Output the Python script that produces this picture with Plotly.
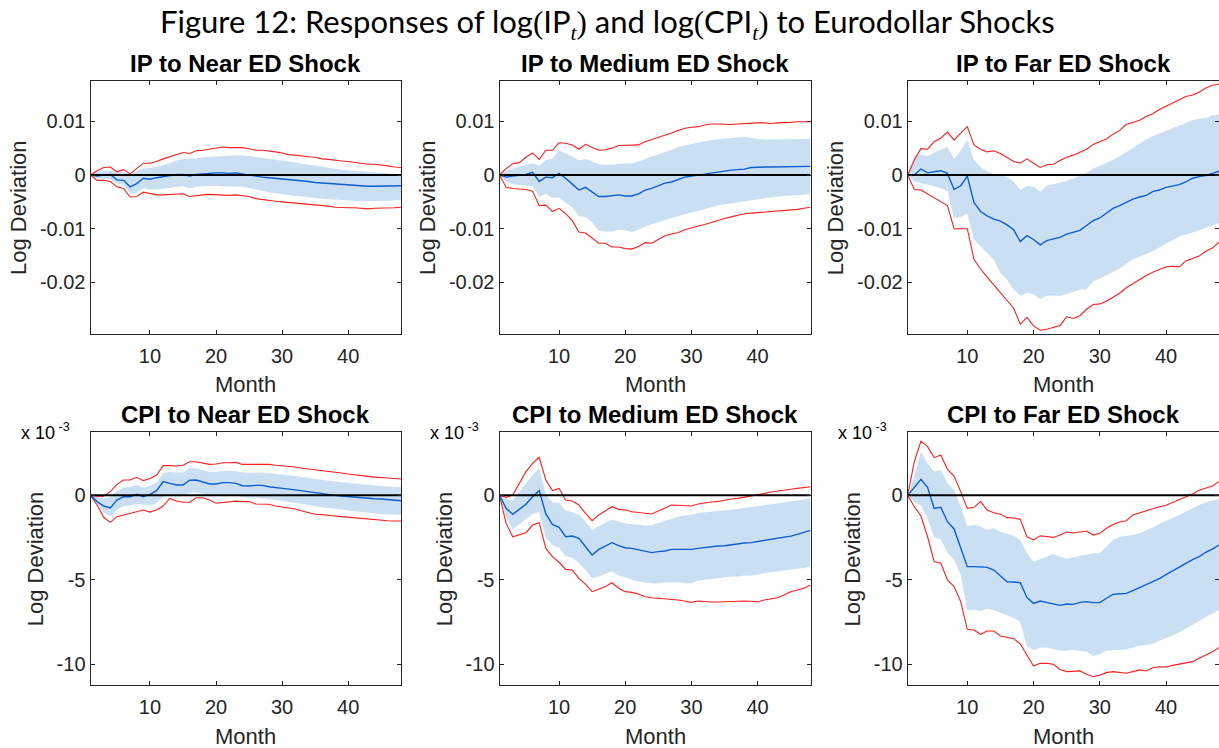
import plotly.graph_objects as go

W, H = 1219, 748
months = list(range(1, 49))

# ---- IP responses (log deviation) ----
ip_near_med = [0, -0.0002, 0, 0.0001, -0.0009, -0.001, -0.0022, -0.0016, -0.0006, -0.0008,
               -0.0005, -0.0003, -0.0001, 0.0001, 0.0001, -0.0002, 0.0001, 0.0002, 0.0004, 0.0004,
               0.0004, 0.0003, 0.0004, 0.0002, -0.0001, -0.0003, -0.0004, -0.0005, -0.0006, -0.0007,
               -0.0009, -0.001, -0.0011, -0.0012, -0.0014, -0.0015, -0.0016, -0.0017, -0.0018, -0.0019,
               -0.0019, -0.002, -0.0021, -0.0021, -0.0021, -0.0021, -0.002, -0.002]
ip_near_hi90 = [0, 0.0008, 0.0014, 0.0015, 0.0006, 0.001, 0.0002, 0.0012, 0.0022, 0.0022,
                0.0025, 0.003, 0.0034, 0.0038, 0.0042, 0.004, 0.0045, 0.0046, 0.0048, 0.005,
                0.0052, 0.0051, 0.0051, 0.0051, 0.0049, 0.0046, 0.0046, 0.0045, 0.0043, 0.0041,
                0.0038, 0.0037, 0.0035, 0.0034, 0.0033, 0.003, 0.0029, 0.0027, 0.0026, 0.0025,
                0.0023, 0.0022, 0.002, 0.002, 0.0019, 0.0017, 0.0015, 0.0014]
ip_near_lo90 = [0, -0.001, -0.001, -0.0012, -0.0022, -0.0025, -0.0041, -0.004, -0.0032, -0.0035,
                -0.0037, -0.0037, -0.0036, -0.0035, -0.0035, -0.004, -0.0038, -0.0037, -0.0036, -0.0037,
                -0.0038, -0.0038, -0.0037, -0.0038, -0.004, -0.0044, -0.0046, -0.0047, -0.0049, -0.005,
                -0.0051, -0.0053, -0.0054, -0.0055, -0.0055, -0.0057, -0.0058, -0.006, -0.0061, -0.0061,
                -0.0061, -0.0062, -0.0063, -0.0062, -0.0062, -0.0061, -0.0061, -0.006]
ip_near_hi68 = [0, 0.0006, 0.0008, 0.0008, 0.0005, 0.0006, 0.0001, 0.0007, 0.0012, 0.0013,
                0.0015, 0.0018, 0.0022, 0.0027, 0.003, 0.003, 0.0031, 0.0033, 0.0034, 0.0035,
                0.0036, 0.0037, 0.0037, 0.0037, 0.0035, 0.0033, 0.0032, 0.003, 0.0028, 0.0027,
                0.0025, 0.0023, 0.0021, 0.002, 0.0018, 0.0016, 0.0014, 0.0012, 0.001, 0.0009,
                0.0008, 0.0006, 0.0005, 0.0004, 0.0003, 0.0003, 0.0002, 0.0002]
ip_near_lo68 = [0, -0.0006, -0.0007, -0.0008, -0.0016, -0.0018, -0.0034, -0.0033, -0.0024, -0.0027,
                -0.0027, -0.0026, -0.0024, -0.0022, -0.0021, -0.0025, -0.0022, -0.0021, -0.002, -0.002,
                -0.0021, -0.0021, -0.0021, -0.0022, -0.0024, -0.0027, -0.003, -0.0032, -0.0034, -0.0036,
                -0.0037, -0.0039, -0.004, -0.0042, -0.0043, -0.0044, -0.0045, -0.0046, -0.0047, -0.0048,
                -0.0048, -0.0049, -0.0049, -0.0049, -0.0049, -0.0048, -0.0047, -0.0046]

ip_med_med = [0, -0.0004, -0.0002, -0.0001, 0.0001, 0.0005, -0.0012, -0.0004, -0.0005, 0.0003,
              -0.0006, -0.0017, -0.0028, -0.0023, -0.0031, -0.004, -0.004, -0.0039, -0.0037, -0.0039,
              -0.0039, -0.0035, -0.0028, -0.0025, -0.002, -0.0015, -0.0013, -0.0009, -0.0004, -0.0002,
              0, 0.0002, 0.0004, 0.0005, 0.0007, 0.0009, 0.001, 0.0011, 0.0014, 0.0015,
              0.0015, 0.0015, 0.0015, 0.0015, 0.0015, 0.0015, 0.0016, 0.0016]
ip_med_hi90 = [0, 0.0012, 0.0021, 0.0023, 0.0033, 0.0041, 0.0029, 0.0046, 0.0046, 0.006,
               0.0059, 0.0056, 0.0048, 0.0057, 0.0051, 0.0046, 0.0047, 0.005, 0.0055, 0.0055,
               0.0055, 0.0056, 0.0062, 0.0066, 0.0069, 0.0073, 0.0078, 0.0083, 0.0087, 0.0089,
               0.009, 0.0093, 0.0095, 0.0095, 0.0094, 0.0094, 0.0095, 0.0096, 0.0096, 0.0097,
               0.0097, 0.0096, 0.0097, 0.0097, 0.0098, 0.0099, 0.0099, 0.0099]
ip_med_lo90 = [0, -0.0023, -0.0025, -0.0026, -0.0027, -0.003, -0.0057, -0.0056, -0.0068, -0.0062,
               -0.0072, -0.0085, -0.0106, -0.0108, -0.0117, -0.0127, -0.0127, -0.0134, -0.0134, -0.0137,
               -0.0138, -0.0133, -0.0126, -0.0127, -0.012, -0.0113, -0.011, -0.0107, -0.0102, -0.0098,
               -0.0095, -0.0092, -0.0088, -0.0084, -0.0081, -0.0078, -0.0075, -0.0072, -0.0071, -0.007,
               -0.007, -0.0069, -0.0068, -0.0067, -0.0066, -0.0064, -0.0062, -0.006]
ip_med_hi68 = [0, 0.0008, 0.0012, 0.0015, 0.0018, 0.0022, 0.0017, 0.0028, 0.0031, 0.0045,
               0.004, 0.0035, 0.0027, 0.003, 0.0025, 0.002, 0.0019, 0.0019, 0.0021, 0.0021,
               0.0022, 0.0025, 0.003, 0.0034, 0.0038, 0.0042, 0.0047, 0.0052, 0.0055, 0.0058,
               0.006, 0.0063, 0.0065, 0.0066, 0.0068, 0.0069, 0.007, 0.0071, 0.0069, 0.0067,
               0.0066, 0.0066, 0.0066, 0.0066, 0.0066, 0.0066, 0.0067, 0.0068]
ip_med_lo68 = [0, -0.0013, -0.0017, -0.0018, -0.0019, -0.0021, -0.0041, -0.0035, -0.0043, -0.0042,
               -0.0052, -0.006, -0.0077, -0.0078, -0.0088, -0.0104, -0.0105, -0.0105, -0.0102, -0.0103,
               -0.0106, -0.0102, -0.0096, -0.0092, -0.0088, -0.0083, -0.008, -0.0077, -0.0073, -0.007,
               -0.0067, -0.0063, -0.006, -0.0057, -0.0055, -0.0052, -0.005, -0.0049, -0.0047, -0.0045,
               -0.0043, -0.0042, -0.004, -0.0039, -0.0038, -0.0037, -0.0037, -0.0036]

ip_far_med = [0, 0, 0.0011, 0.0004, 0.0006, 0.0008, 0.0003, -0.0027, -0.002, -0.0002,
              -0.0051, -0.0068, -0.0076, -0.0082, -0.0086, -0.0093, -0.0102, -0.0124, -0.0113, -0.012,
              -0.013, -0.0122, -0.0119, -0.0116, -0.011, -0.0106, -0.0103, -0.0094, -0.0085, -0.008,
              -0.0071, -0.0062, -0.0057, -0.0051, -0.0045, -0.0041, -0.0038, -0.0031, -0.0028, -0.0023,
              -0.002, -0.0018, -0.0013, -0.0006, -0.0003, -0.0001, 0.0003, 0.0007]
ip_far_hi90 = [0, 0.0028, 0.0049, 0.0048, 0.0062, 0.0069, 0.008, 0.0065, 0.0078, 0.009,
               0.0056, 0.0048, 0.0043, 0.0045, 0.004, 0.0033, 0.0025, 0.0022, 0.003, 0.0022,
               0.0014, 0.0019, 0.002, 0.0027, 0.0033, 0.0037, 0.0043, 0.0048, 0.0057, 0.0062,
               0.0067, 0.0076, 0.0083, 0.0094, 0.0098, 0.0102, 0.0109, 0.0114, 0.0122, 0.0128,
               0.0134, 0.014, 0.0146, 0.0149, 0.0154, 0.0162, 0.0167, 0.0169]
ip_far_lo90 = [0, -0.0027, -0.0028, -0.0035, -0.0042, -0.0049, -0.0057, -0.01, -0.01, -0.01,
               -0.0157, -0.0175, -0.019, -0.0204, -0.0218, -0.0233, -0.0248, -0.0278, -0.0265, -0.0281,
               -0.0289, -0.0287, -0.0284, -0.028, -0.0264, -0.0267, -0.0262, -0.025, -0.0241, -0.024,
               -0.0235, -0.0227, -0.022, -0.021, -0.0202, -0.0194, -0.0187, -0.0181, -0.0176, -0.0171,
               -0.017, -0.0171, -0.016, -0.0156, -0.0151, -0.0142, -0.0136, -0.0125]
ip_far_hi68 = [0, 0.0037, 0.0038, 0.0035, 0.0042, 0.0047, 0.0052, 0.003, 0.0045, 0.0065,
               0.0028, 0.0015, 0.0007, 0.0002, 0, -0.0004, -0.0012, -0.0028, -0.002, -0.0022,
               -0.0031, -0.002, -0.0017, -0.0015, -0.0011, -0.0006, -0.0002, 0.0004, 0.0012, 0.0017,
               0.0022, 0.0028, 0.0035, 0.0043, 0.0051, 0.0059, 0.0066, 0.0072, 0.0077, 0.0081,
               0.0086, 0.0091, 0.0096, 0.0102, 0.0105, 0.0106, 0.0111, 0.0113]
ip_far_lo68 = [0, -0.0012, -0.0015, -0.0018, -0.002, -0.0024, -0.003, -0.008, -0.0078, -0.0071,
               -0.012, -0.0133, -0.0145, -0.0158, -0.0182, -0.0195, -0.0213, -0.0225, -0.0219, -0.0222,
               -0.0231, -0.0225, -0.0225, -0.0225, -0.0222, -0.0218, -0.0213, -0.0213, -0.0198, -0.0193,
               -0.0187, -0.0181, -0.0174, -0.0165, -0.0157, -0.0152, -0.0147, -0.0142, -0.0135, -0.0128,
               -0.012, -0.0114, -0.0111, -0.0107, -0.0103, -0.0099, -0.0094, -0.009]

# ---- CPI responses (log deviation, in units of 1e-3) ----
cpi_near_med = [0, -0.37, -0.63, -0.75, -0.28, -0.08, -0.08, 0.06, -0.08, 0.06,
                0.28, 0.81, 0.71, 0.61, 0.61, 0.89, 0.91, 0.81, 0.67, 0.67,
                0.75, 0.75, 0.71, 0.57, 0.55, 0.59, 0.59, 0.51, 0.45, 0.41,
                0.37, 0.32, 0.26, 0.2, 0.14, 0.08, 0.04, 0, -0.04, -0.08,
                -0.1, -0.14, -0.16, -0.2, -0.22, -0.26, -0.28, -0.32]
cpi_near_hi90 = [0, -0.05, -0.05, 0.22, 0.65, 0.91, 0.91, 1.07, 0.87, 1.0,
                 1.2, 1.76, 1.76, 1.74, 1.78, 1.99, 1.99, 1.93, 1.83, 1.85,
                 1.93, 1.93, 1.95, 1.83, 1.83, 1.85, 1.87, 1.83, 1.78, 1.76,
                 1.74, 1.68, 1.6, 1.56, 1.52, 1.48, 1.42, 1.36, 1.32, 1.26,
                 1.2, 1.16, 1.12, 1.08, 1.07, 1.03, 1.0, 0.97]
cpi_near_lo90 = [0, -0.57, -1.3, -1.6, -1.26, -1.16, -1.07, -0.97, -0.87, -0.99,
                 -0.87, -0.63, -0.18, -0.34, -0.41, -0.41, -0.14, -0.14, -0.28, -0.47,
                 -0.43, -0.37, -0.34, -0.37, -0.37, -0.51, -0.53, -0.53, -0.63, -0.69,
                 -0.73, -0.81, -0.93, -1.03, -1.12, -1.14, -1.2, -1.22, -1.26, -1.3,
                 -1.34, -1.36, -1.4, -1.44, -1.48, -1.5, -1.52, -1.52]
cpi_near_hi68 = [0, -0.1, -0.15, -0.1, 0.25, 0.45, 0.5, 0.62, 0.45, 0.55,
                 0.75, 1.3, 1.4, 1.35, 1.35, 1.6, 1.6, 1.5, 1.38, 1.4,
                 1.43, 1.45, 1.43, 1.35, 1.34, 1.35, 1.35, 1.3, 1.27, 1.24,
                 1.2, 1.15, 1.08, 1.02, 0.97, 0.92, 0.87, 0.82, 0.78, 0.74,
                 0.7, 0.65, 0.6, 0.57, 0.55, 0.53, 0.5, 0.48]
cpi_near_lo68 = [0, -0.5, -1.0, -1.25, -0.85, -0.65, -0.6, -0.5, -0.55, -0.6,
                 -0.45, -0.1, 0.0, -0.05, -0.05, 0.15, 0.15, 0.1, -0.05, -0.05,
                 0.0, 0.02, 0.0, -0.1, -0.15, -0.15, -0.17, -0.22, -0.27, -0.32,
                 -0.37, -0.42, -0.5, -0.57, -0.65, -0.7, -0.75, -0.8, -0.85, -0.9,
                 -0.95, -1.0, -1.03, -1.07, -1.1, -1.13, -1.15, -1.17]

cpi_med_med = [0, -0.77, -1.12, -0.83, -0.53, -0.08, 0.28, -1.1, -1.72, -1.89,
               -2.45, -2.41, -2.54, -3.04, -3.53, -3.2, -3.0, -2.8, -2.98, -3.1,
               -3.14, -3.23, -3.33, -3.39, -3.33, -3.29, -3.2, -3.21, -3.23, -3.2,
               -3.14, -3.08, -3.04, -3.0, -2.98, -2.92, -2.86, -2.82, -2.8, -2.74,
               -2.66, -2.6, -2.52, -2.47, -2.41, -2.31, -2.19, -2.07]
cpi_med_hi90 = [0, -0.12, 0.02, 0.71, 1.4, 1.89, 2.25, 0.91, 0.28, 0.41,
                -0.28, -0.34, -0.57, -1.07, -1.5, -1.16, -0.91, -0.67, -0.83, -0.87,
                -0.97, -1.01, -1.03, -1.1, -0.93, -0.77, -0.57, -0.59, -0.59, -0.63,
                -0.51, -0.43, -0.39, -0.36, -0.28, -0.22, -0.18, -0.12, -0.02, 0.04,
                0.1, 0.2, 0.24, 0.3, 0.36, 0.41, 0.47, 0.51]
cpi_med_lo90 = [0, -1.66, -2.45, -2.35, -2.21, -1.76, -1.62, -3.14, -3.63, -3.96,
                -4.38, -4.42, -4.91, -5.25, -5.7, -5.56, -5.4, -5.17, -5.5, -5.7,
                -5.74, -5.84, -6.0, -6.06, -6.09, -6.11, -6.13, -6.19, -6.25, -6.33,
                -6.25, -6.29, -6.31, -6.31, -6.29, -6.27, -6.27, -6.25, -6.27, -6.31,
                -6.19, -6.13, -6.06, -5.9, -5.7, -5.6, -5.5, -5.3]
cpi_med_hi68 = [0, -0.2, -0.3, 0.2, 0.7, 1.2, 1.6, 0.02, -0.4, -0.45,
                -0.9, -1.0, -1.15, -1.55, -2.05, -1.8, -1.6, -1.45, -1.55, -1.65,
                -1.7, -1.75, -1.78, -1.75, -1.65, -1.5, -1.4, -1.25, -1.2, -1.15,
                -1.05, -1.0, -0.97, -0.93, -0.9, -0.85, -0.8, -0.75, -0.7, -0.65,
                -0.6, -0.55, -0.5, -0.42, -0.35, -0.28, -0.22, -0.18]
cpi_med_lo68 = [0, -1.3, -2.0, -1.7, -1.4, -1.1, -1.0, -2.5, -2.95, -3.1,
                -3.6, -3.7, -4.0, -4.4, -4.9, -4.8, -4.65, -4.5, -4.75, -4.85,
                -5.0, -5.1, -5.15, -5.2, -5.2, -5.15, -5.15, -5.15, -5.2, -5.2,
                -5.05, -5.0, -4.95, -4.9, -4.85, -4.8, -4.8, -4.75, -4.75, -4.7,
                -4.6, -4.55, -4.5, -4.45, -4.4, -4.35, -4.3, -4.2]

cpi_far_med = [0, 0.47, 0.95, 0.47, -0.77, -0.71, -1.56, -1.99, -3.14, -4.22,
               -4.22, -4.24, -4.26, -4.42, -4.75, -5.11, -5.13, -5.17, -6.04, -6.39,
               -6.25, -6.35, -6.43, -6.51, -6.43, -6.45, -6.33, -6.29, -6.35, -6.35,
               -6.09, -5.86, -5.82, -5.8, -5.64, -5.46, -5.29, -5.07, -4.93, -4.69,
               -4.46, -4.26, -4.02, -3.81, -3.63, -3.37, -3.18, -2.94]
cpi_far_hi90 = [0, 1.99, 3.21, 2.88, 2.23, 2.39, 1.54, 1.14, 0.22, -0.77,
                -0.71, -0.37, -0.87, -1.03, -1.12, -1.32, -1.34, -1.42, -2.45, -2.64,
                -2.39, -2.45, -2.49, -2.35, -2.17, -2.23, -2.19, -2.11, -2.35, -2.25,
                -1.95, -1.72, -1.58, -1.5, -1.16, -1.03, -0.91, -0.79, -0.67, -0.59,
                -0.43, -0.28, -0.12, 0.08, 0.3, 0.43, 0.55, 0.81]
cpi_far_lo90 = [0, -0.67, -1.22, -2.45, -3.93, -4.02, -5.01, -5.4, -6.29, -7.93,
                -7.97, -8.22, -8.03, -8.03, -8.32, -8.42, -8.48, -8.8, -9.45, -10.1,
                -9.94, -9.94, -10.0, -10.3, -10.43, -10.43, -10.39, -10.59, -10.73, -10.65,
                -10.49, -10.43, -10.49, -10.53, -10.43, -10.33, -10.39, -10.2, -10.14, -10.16,
                -10.06, -9.98, -9.94, -9.84, -9.64, -9.45, -9.25, -9.01]
cpi_far_hi68 = [0, 1.1, 2.58, 1.89, 1.4, 1.5, 0.71, 0.32, -0.67, -1.81,
                -1.76, -1.85, -2.05, -1.95, -2.15, -2.25, -2.39, -2.64, -3.43, -3.93,
                -3.79, -3.63, -3.47, -3.63, -3.73, -3.67, -3.59, -3.47, -3.43, -3.43,
                -3.04, -2.64, -2.45, -2.41, -2.35, -2.25, -2.05, -1.89, -1.7, -1.5,
                -1.36, -1.16, -0.97, -0.77, -0.57, -0.41, -0.32, -0.22]
cpi_far_lo68 = [0, -0.4, -0.6, -1.4, -2.5, -2.6, -3.4, -3.8, -4.7, -6.82,
                -6.75, -6.85, -6.7, -6.8, -6.95, -7.1, -7.25, -7.5, -8.95, -9.15,
                -9.0, -9.0, -9.1, -9.2, -9.2, -9.15, -9.2, -9.25, -9.5, -9.4,
                -9.2, -9.15, -9.15, -9.1, -9.0, -8.9, -8.85, -8.8, -8.6, -8.45,
                -8.3, -8.1, -7.9, -7.7, -7.45, -7.2, -7.0, -6.8]

panel_titles = ["IP to Near ED Shock", "IP to Medium ED Shock", "IP to Far ED Shock",
                "CPI to Near ED Shock", "CPI to Medium ED Shock", "CPI to Far ED Shock"]
ip_tickvals = [0.01, 0, -0.01, -0.02]
ip_ticktext = ["0.01", "0", "-0.01", "-0.02"]
cpi_tickvals = [0, -5, -10]
cpi_ticktext = ["0", "-5", "-10"]
month_ticks = [10, 20, 30, 40]

panels = [
    (ip_near_med, ip_near_lo68, ip_near_hi68, ip_near_lo90, ip_near_hi90),
    (ip_med_med, ip_med_lo68, ip_med_hi68, ip_med_lo90, ip_med_hi90),
    (ip_far_med, ip_far_lo68, ip_far_hi68, ip_far_lo90, ip_far_hi90),
    (cpi_near_med, cpi_near_lo68, cpi_near_hi68, cpi_near_lo90, cpi_near_hi90),
    (cpi_med_med, cpi_med_lo68, cpi_med_hi68, cpi_med_lo90, cpi_med_hi90),
    (cpi_far_med, cpi_far_lo68, cpi_far_hi68, cpi_far_lo90, cpi_far_hi90),
]

# plot-area boxes in pixels: (left, right), (top, bottom)
col_px = [(90.5, 401.0), (499.5, 810.5), (907.7, 1219.0)]
row_px = [(81.0, 334.0), (432.3, 685.3)]

FILL = "#cadff1"
RED = "#ff1f1f"
BLUE = "#0b5fcf"
AX = "#262626"
SANS = "Liberation Sans, Arial, sans-serif"

fig = go.Figure()
annotations = []

for i, (med, lo68, hi68, lo90, hi90) in enumerate(panels):
    r, c = divmod(i, 3)
    ax = "" if i == 0 else str(i + 1)
    xa, ya = "x" + ax, "y" + ax
    fig.add_trace(go.Scatter(x=months, y=lo68, xaxis=xa, yaxis=ya, mode="lines",
                             line=dict(width=0), showlegend=False, hoverinfo="skip"))
    fig.add_trace(go.Scatter(x=months, y=hi68, xaxis=xa, yaxis=ya, mode="lines",
                             line=dict(width=0), fill="tonexty", fillcolor=FILL,
                             showlegend=False, hoverinfo="skip"))
    fig.add_trace(go.Scatter(x=months, y=lo90, xaxis=xa, yaxis=ya, mode="lines",
                             line=dict(color=RED, width=1.1), showlegend=False))
    fig.add_trace(go.Scatter(x=months, y=hi90, xaxis=xa, yaxis=ya, mode="lines",
                             line=dict(color=RED, width=1.1), showlegend=False))
    fig.add_trace(go.Scatter(x=months, y=med, xaxis=xa, yaxis=ya, mode="lines",
                             line=dict(color=BLUE, width=1.4), showlegend=False))
    fig.add_trace(go.Scatter(x=[months[0], months[-1]], y=[0, 0], xaxis=xa, yaxis=ya,
                             mode="lines", line=dict(color="black", width=2),
                             showlegend=False, hoverinfo="skip"))

    (x0, x1), (y0, y1) = col_px[c], row_px[r]
    xdom = [x0 / W, x1 / W]
    ydom = [1 - y1 / H, 1 - y0 / H]
    common = dict(showline=True, linecolor=AX, linewidth=1, mirror="ticks",
                  ticks="inside", ticklen=4, tickcolor=AX, showgrid=False,
                  zeroline=False, tickfont=dict(family=SANS, size=20, color=AX))
    fig.update_layout(**{
        "xaxis" + ax: dict(domain=xdom, anchor=ya, range=[1, 48], tickvals=month_ticks,
                           ticklabelstandoff=4, **common),
        "yaxis" + ax: dict(domain=ydom, anchor=xa,
                           range=[-0.0296, 0.0175] if r == 0 else [-11.24, 3.73],
                           tickvals=ip_tickvals if r == 0 else cpi_tickvals,
                           ticktext=ip_ticktext if r == 0 else cpi_ticktext,
                           **common),
    })

    xc = (x0 + x1) / 2
    annotations.append(dict(text="<b>" + panel_titles[i] + "</b>", x=xc / W,
                            y=1 - (y0 - 18) / H, xref="paper", yref="paper",
                            xanchor="center", yanchor="middle", showarrow=False,
                            font=dict(family=SANS, size=24, color="black")))
    annotations.append(dict(text="Month", x=xc / W, y=1 - (y1 + 51) / H,
                            xref="paper", yref="paper", xanchor="center",
                            yanchor="middle", showarrow=False,
                            font=dict(family=SANS, size=22, color=AX)))
    lab_x = x0 - (72 if r == 0 else 55)
    annotations.append(dict(text="Log Deviation", x=lab_x / W, y=1 - (y0 + y1) / 2 / H,
                            xref="paper", yref="paper", xanchor="center",
                            yanchor="middle", textangle=-90, showarrow=False,
                            font=dict(family=SANS, size=22, color=AX)))
    if r == 1:
        annotations.append(dict(text="x 10<sup> -3</sup>", x=(x0 - 72) / W,
                                y=1 - (y0 + 13) / H, xref="paper", yref="paper",
                                xanchor="left", yanchor="bottom", showarrow=False,
                                font=dict(family=SANS, size=18, color="black")))

serif = "<span style=\"font-family:'Liberation Serif',serif\">"
title = ("Figure 12: Responses of log" + serif + "(</span>IP<sub>" + serif + "<i>t</i></span></sub>"
         + serif + ")</span> and log" + serif + "(</span>CPI<sub>" + serif + "<i>t</i></span></sub>"
         + serif + ")</span> to Eurodollar Shocks")
annotations.append(dict(text=title, x=607 / W, y=1 - 23 / H, xref="paper", yref="paper",
                        xanchor="center", yanchor="middle", showarrow=False,
                        font=dict(family="Lato, sans-serif", size=31, color="black")))

fig.update_layout(width=W, height=H, margin=dict(l=0, r=0, t=0, b=0),
                  paper_bgcolor="white", plot_bgcolor="white",
                  annotations=annotations, showlegend=False)

fig.write_html("out.html")
